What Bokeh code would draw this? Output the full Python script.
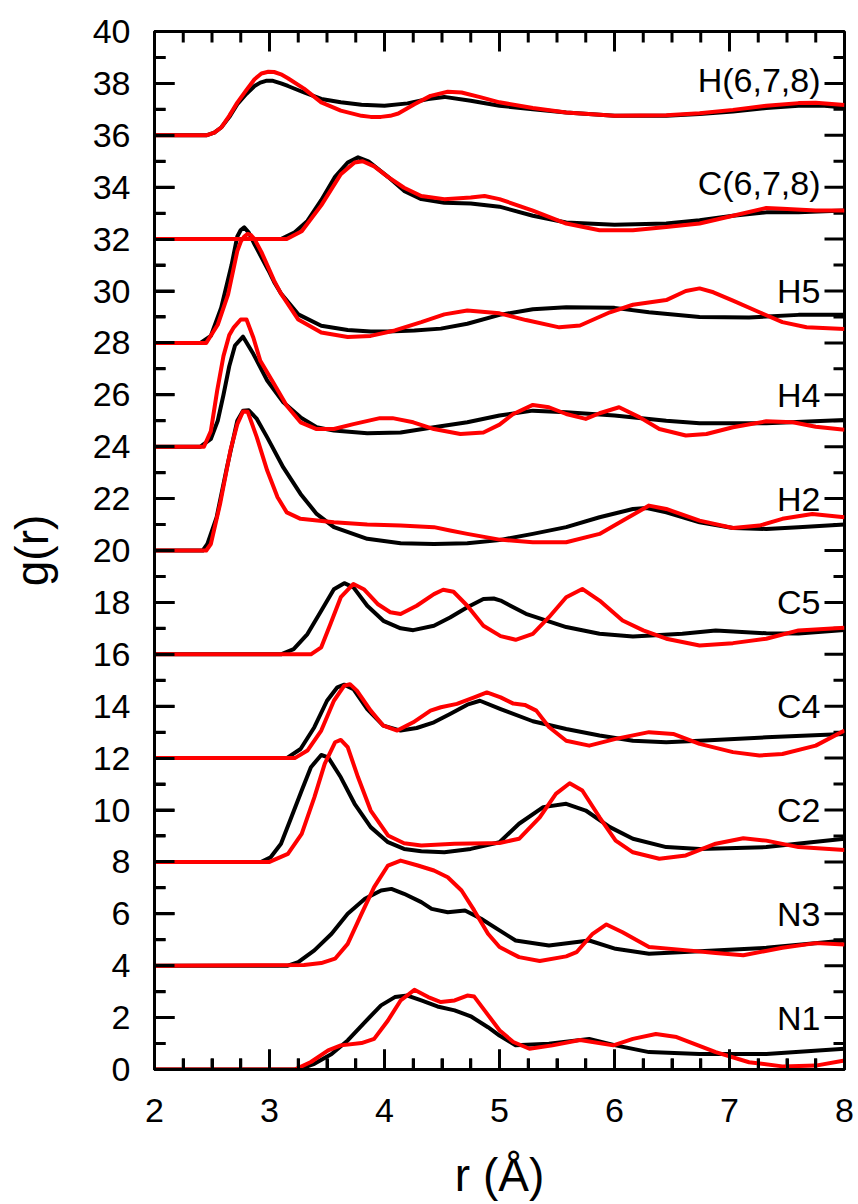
from bokeh.plotting import figure
from bokeh.models import Range1d, SingleIntervalTicker, ColumnDataSource
from bokeh.core.properties import value
from bokeh.embed import file_html
from bokeh.resources import INLINE

# ---------------- data ----------------
site_names = ["N1", "N3", "C2", "C4", "C5", "H2", "H4", "H5", "C(6,7,8)", "H(6,7,8)"]
site_offsets = [0, 4, 8, 12, 16, 20, 24, 28, 32, 36]

# N1 (offset 0)
n1_black_r = [2.0, 3.25, 3.39, 3.54, 3.68, 3.83, 3.97, 4.09, 4.2, 4.32, 4.46, 4.61, 4.75, 4.9, 5.0, 5.14, 5.43, 5.78, 6.01, 6.3, 6.74, 7.32, 8.0]
n1_black_g = [0.0, 0.0, 0.22, 0.6, 1.12, 1.83, 2.47, 2.79, 2.85, 2.66, 2.43, 2.28, 2.05, 1.63, 1.31, 0.93, 0.99, 1.18, 0.93, 0.67, 0.6, 0.6, 0.8]
n1_red_r = [2.0, 3.22, 3.36, 3.51, 3.62, 3.8, 3.91, 4.03, 4.14, 4.26, 4.38, 4.49, 4.61, 4.72, 4.78, 4.87, 5.0, 5.12, 5.26, 5.46, 5.7, 5.99, 6.16, 6.36, 6.54, 6.88, 7.17, 7.46, 7.75, 8.0]
n1_red_g = [0.0, 0.0, 0.29, 0.74, 0.93, 1.02, 1.18, 1.89, 2.66, 3.07, 2.79, 2.6, 2.66, 2.85, 2.81, 2.28, 1.51, 1.06, 0.8, 0.93, 1.14, 0.93, 1.18, 1.37, 1.25, 0.67, 0.28, 0.12, 0.15, 0.35]

# N3 (offset 4)
n3_black_r = [2.0, 3.16, 3.25, 3.39, 3.54, 3.68, 3.83, 3.97, 4.06, 4.17, 4.32, 4.41, 4.55, 4.7, 4.84, 5.0, 5.14, 5.43, 5.78, 6.01, 6.3, 6.74, 7.32, 8.0]
n3_black_g = [4.0, 4.0, 4.14, 4.59, 5.23, 6.0, 6.58, 6.9, 6.96, 6.77, 6.45, 6.19, 6.06, 6.13, 5.81, 5.36, 4.97, 4.78, 4.97, 4.65, 4.46, 4.56, 4.69, 4.97]
n3_red_r = [2.0, 3.3, 3.45, 3.57, 3.68, 3.8, 3.91, 4.03, 4.14, 4.29, 4.43, 4.55, 4.67, 4.78, 4.9, 5.0, 5.17, 5.35, 5.58, 5.67, 5.81, 5.93, 6.07, 6.3, 6.59, 6.88, 7.12, 7.46, 7.75, 8.0]
n3_red_g = [4.0, 4.03, 4.1, 4.27, 4.84, 6.0, 7.03, 7.86, 8.05, 7.86, 7.67, 7.41, 6.9, 6.13, 5.23, 4.72, 4.33, 4.18, 4.36, 4.52, 5.23, 5.59, 5.29, 4.72, 4.61, 4.49, 4.4, 4.69, 4.87, 4.82]

# C2 (offset 8)
c2_black_r = [2.0, 2.93, 3.01, 3.1, 3.19, 3.28, 3.36, 3.45, 3.51, 3.62, 3.74, 3.88, 4.03, 4.17, 4.32, 4.52, 4.75, 5.0, 5.17, 5.38, 5.58, 5.75, 5.96, 6.16, 6.45, 6.74, 7.32, 8.0]
c2_black_g = [8.0, 8.0, 8.18, 8.7, 9.72, 10.75, 11.65, 12.12, 12.03, 11.26, 10.24, 9.34, 8.76, 8.5, 8.41, 8.37, 8.5, 8.76, 9.47, 10.11, 10.24, 9.98, 9.34, 8.89, 8.57, 8.5, 8.57, 8.89]
c2_red_r = [2.0, 3.0, 3.16, 3.28, 3.39, 3.48, 3.57, 3.62, 3.68, 3.77, 3.88, 4.03, 4.17, 4.32, 4.61, 4.9, 5.0, 5.17, 5.35, 5.49, 5.61, 5.72, 5.87, 6.01, 6.16, 6.39, 6.62, 6.88, 7.12, 7.32, 7.6, 8.0]
c2_red_g = [8.0, 8.0, 8.31, 9.08, 10.49, 11.78, 12.61, 12.7, 12.42, 11.26, 9.98, 9.02, 8.72, 8.63, 8.7, 8.72, 8.73, 8.89, 9.72, 10.62, 11.03, 10.75, 9.72, 8.82, 8.37, 8.12, 8.25, 8.7, 8.91, 8.82, 8.57, 8.46]

# C4 (offset 12)
c4_black_r = [2.0, 3.15, 3.27, 3.39, 3.5, 3.59, 3.65, 3.73, 3.85, 3.99, 4.14, 4.28, 4.43, 4.57, 4.72, 4.83, 5.01, 5.29, 5.58, 5.87, 6.16, 6.45, 6.74, 7.32, 8.0]
c4_black_g = [12.0, 12.0, 12.35, 13.19, 14.21, 14.73, 14.83, 14.66, 13.89, 13.25, 13.06, 13.16, 13.38, 13.7, 14.06, 14.21, 13.89, 13.42, 13.12, 12.87, 12.67, 12.61, 12.67, 12.8, 12.93]
c4_red_r = [2.0, 3.22, 3.33, 3.45, 3.56, 3.65, 3.7, 3.76, 3.88, 3.99, 4.11, 4.25, 4.4, 4.49, 4.63, 4.78, 4.89, 5.01, 5.12, 5.22, 5.32, 5.43, 5.58, 5.78, 6.01, 6.3, 6.51, 6.74, 7.03, 7.26, 7.46, 7.75, 8.0]
c4_red_g = [12.0, 12.0, 12.29, 13.06, 14.21, 14.79, 14.85, 14.6, 13.83, 13.25, 13.06, 13.38, 13.83, 13.96, 14.09, 14.34, 14.53, 14.34, 14.1, 14.05, 13.83, 13.2, 12.67, 12.48, 12.74, 13.0, 12.93, 12.55, 12.23, 12.1, 12.16, 12.48, 13.06]

# C5 (offset 16)
c5_black_r = [2.0, 3.1, 3.21, 3.33, 3.45, 3.56, 3.65, 3.73, 3.85, 3.99, 4.14, 4.25, 4.43, 4.57, 4.72, 4.86, 4.95, 5.01, 5.23, 5.58, 5.87, 6.16, 6.59, 6.88, 7.32, 7.6, 8.0]
c5_black_g = [16.0, 16.0, 16.2, 16.78, 17.68, 18.51, 18.74, 18.58, 17.87, 17.29, 17.0, 16.93, 17.1, 17.42, 17.81, 18.13, 18.15, 18.07, 17.56, 17.05, 16.79, 16.69, 16.79, 16.92, 16.81, 16.8, 16.94]
c5_red_r = [2.0, 3.36, 3.45, 3.53, 3.62, 3.73, 3.82, 3.94, 4.05, 4.14, 4.28, 4.43, 4.51, 4.6, 4.72, 4.86, 5.01, 5.14, 5.29, 5.43, 5.58, 5.72, 5.87, 6.07, 6.25, 6.45, 6.74, 7.03, 7.32, 7.6, 8.0]
c5_red_g = [16.0, 16.0, 16.27, 17.17, 18.2, 18.71, 18.51, 17.94, 17.62, 17.55, 17.87, 18.32, 18.49, 18.41, 17.87, 17.1, 16.7, 16.56, 16.79, 17.43, 18.2, 18.52, 18.07, 17.3, 16.92, 16.6, 16.34, 16.43, 16.6, 16.92, 17.02]

# H2 (offset 20)
h2_black_r = [2.0, 2.42, 2.46, 2.54, 2.63, 2.72, 2.77, 2.82, 2.89, 2.98, 3.12, 3.27, 3.41, 3.56, 3.85, 4.14, 4.43, 4.72, 5.0, 5.29, 5.58, 5.87, 6.16, 6.28, 6.45, 6.74, 7.03, 7.32, 7.6, 8.0]
h2_black_g = [20.0, 20.0, 20.25, 21.28, 23.2, 25.0, 25.39, 25.4, 25.07, 24.36, 23.2, 22.18, 21.41, 20.9, 20.45, 20.28, 20.25, 20.28, 20.4, 20.64, 20.9, 21.28, 21.6, 21.64, 21.47, 21.09, 20.87, 20.83, 20.9, 21.0]
h2_red_r = [2.0, 2.45, 2.49, 2.57, 2.66, 2.72, 2.77, 2.81, 2.89, 2.98, 3.07, 3.15, 3.27, 3.56, 3.85, 4.14, 4.43, 4.57, 4.72, 5.0, 5.29, 5.58, 5.87, 6.1, 6.3, 6.45, 6.74, 7.03, 7.26, 7.46, 7.72, 8.0]
h2_red_g = [20.0, 20.0, 20.25, 21.79, 23.85, 24.87, 25.36, 25.35, 24.36, 23.08, 22.05, 21.47, 21.22, 21.09, 21.0, 20.96, 20.9, 20.77, 20.64, 20.42, 20.32, 20.32, 20.64, 21.22, 21.73, 21.6, 21.15, 20.87, 20.96, 21.22, 21.41, 21.28]

# H4 (offset 24)
h4_black_r = [2.0, 2.4, 2.49, 2.55, 2.6, 2.65, 2.7, 2.77, 2.86, 2.98, 3.12, 3.27, 3.41, 3.56, 3.85, 4.14, 4.43, 4.72, 5.0, 5.29, 5.58, 6.0, 6.45, 6.74, 7.32, 8.0]
h4_black_g = [24.0, 24.0, 24.3, 25.0, 26.0, 27.1, 27.9, 28.24, 27.57, 26.55, 25.71, 25.13, 24.75, 24.62, 24.52, 24.55, 24.75, 24.94, 25.2, 25.39, 25.33, 25.2, 25.0, 24.9, 24.9, 25.03]
h4_red_r = [2.0, 2.43, 2.49, 2.545, 2.6, 2.65, 2.69, 2.75, 2.8, 2.86, 2.92, 3.04, 3.15, 3.27, 3.41, 3.56, 3.73, 3.96, 4.07, 4.25, 4.43, 4.66, 4.86, 5.0, 5.12, 5.29, 5.43, 5.58, 5.75, 5.87, 6.04, 6.22, 6.39, 6.62, 6.8, 7.03, 7.32, 7.55, 7.75, 8.0]
h4_red_g = [24.0, 24.0, 24.6, 26.16, 27.5, 28.3, 28.6, 28.9, 28.9, 28.2, 27.31, 26.42, 25.58, 24.94, 24.68, 24.68, 24.87, 25.1, 25.1, 24.94, 24.68, 24.49, 24.55, 24.85, 25.26, 25.61, 25.52, 25.26, 25.07, 25.29, 25.52, 25.13, 24.68, 24.43, 24.49, 24.75, 24.98, 24.94, 24.77, 24.65]

# H5 (offset 28)
h5_black_r = [2.0, 2.4, 2.49, 2.58, 2.67, 2.72, 2.75, 2.78, 2.82, 2.87, 2.93, 2.99, 3.04, 3.1, 3.25, 3.45, 3.68, 3.88, 4.03, 4.26, 4.49, 4.72, 5.0, 5.29, 5.58, 6.0, 6.3, 6.74, 7.17, 7.6, 8.0]
h5_black_g = [28.0, 28.0, 28.27, 29.36, 31.0, 32.1, 32.35, 32.45, 32.25, 31.8, 31.3, 30.8, 30.35, 29.9, 29.1, 28.66, 28.5, 28.44, 28.44, 28.48, 28.55, 28.74, 29.08, 29.3, 29.37, 29.35, 29.18, 29.0, 28.98, 29.08, 29.08]
h5_red_r = [2.0, 2.45, 2.55, 2.64, 2.72, 2.75, 2.78, 2.81, 2.84, 2.87, 2.93, 2.99, 3.04, 3.1, 3.25, 3.45, 3.68, 3.88, 4.09, 4.32, 4.52, 4.72, 5.0, 5.23, 5.52, 5.7, 5.96, 6.16, 6.45, 6.62, 6.74, 6.86, 7.03, 7.26, 7.46, 7.67, 8.0]
h5_red_g = [28.0, 28.0, 28.7, 29.87, 31.54, 31.9, 32.1, 32.2, 32.15, 32.0, 31.5, 30.9, 30.4, 29.9, 28.9, 28.4, 28.23, 28.27, 28.48, 28.8, 29.1, 29.25, 29.14, 28.88, 28.6, 28.67, 29.18, 29.47, 29.65, 30.0, 30.1, 29.95, 29.63, 29.18, 28.8, 28.6, 28.54]

# C(6,7,8) (offset 32)
c678_black_r = [2.0, 3.1, 3.22, 3.33, 3.45, 3.57, 3.68, 3.77, 3.86, 4.03, 4.17, 4.32, 4.52, 4.75, 5.0, 5.29, 5.58, 6.0, 6.45, 6.74, 7.03, 7.32, 7.6, 8.0]
c678_black_g = [32.0, 32.0, 32.26, 32.7, 33.5, 34.4, 34.95, 35.15, 35.0, 34.4, 33.86, 33.54, 33.4, 33.37, 33.25, 32.9, 32.64, 32.55, 32.6, 32.73, 32.9, 33.03, 33.03, 33.1]
c678_red_r = [2.0, 3.15, 3.28, 3.45, 3.62, 3.74, 3.81, 3.91, 4.03, 4.17, 4.32, 4.52, 4.75, 4.87, 5.0, 5.29, 5.58, 5.87, 6.16, 6.45, 6.74, 7.03, 7.32, 7.46, 7.75, 8.0]
c678_red_g = [32.0, 32.0, 32.3, 33.3, 34.5, 34.95, 35.0, 34.8, 34.4, 33.98, 33.66, 33.54, 33.6, 33.66, 33.54, 33.1, 32.6, 32.34, 32.34, 32.47, 32.6, 32.9, 33.2, 33.17, 33.1, 33.1]

# H(6,7,8) (offset 36)
h678_black_r = [2.0, 2.45, 2.52, 2.58, 2.65, 2.72, 2.8, 2.87, 2.92, 2.97, 3.03, 3.1, 3.16, 3.3, 3.45, 3.62, 3.8, 4.0, 4.2, 4.38, 4.52, 4.75, 5.0, 5.29, 5.58, 6.0, 6.45, 6.74, 7.03, 7.32, 7.6, 7.8, 8.0]
h678_black_g = [36.0, 36.0, 36.1, 36.3, 36.7, 37.2, 37.6, 37.9, 38.03, 38.1, 38.1, 38.0, 37.9, 37.65, 37.4, 37.27, 37.18, 37.14, 37.23, 37.4, 37.48, 37.33, 37.14, 37.0, 36.88, 36.75, 36.75, 36.82, 36.92, 37.05, 37.14, 37.15, 37.07]
h678_red_r = [2.0, 2.45, 2.52, 2.58, 2.65, 2.72, 2.8, 2.87, 2.93, 2.99, 3.04, 3.1, 3.16, 3.3, 3.45, 3.62, 3.8, 3.88, 3.97, 4.05, 4.12, 4.26, 4.4, 4.55, 4.67, 4.84, 5.0, 5.29, 5.58, 6.0, 6.45, 6.74, 7.03, 7.32, 7.6, 7.75, 8.0]
h678_red_g = [36.0, 36.0, 36.1, 36.3, 36.75, 37.26, 37.75, 38.16, 38.38, 38.45, 38.44, 38.35, 38.2, 37.8, 37.27, 36.95, 36.75, 36.71, 36.71, 36.75, 36.84, 37.2, 37.52, 37.68, 37.65, 37.46, 37.27, 37.05, 36.88, 36.75, 36.77, 36.85, 36.98, 37.14, 37.24, 37.25, 37.17]

black_curves = [
    (n1_black_r, n1_black_g), (n3_black_r, n3_black_g), (c2_black_r, c2_black_g),
    (c4_black_r, c4_black_g), (c5_black_r, c5_black_g), (h2_black_r, h2_black_g),
    (h4_black_r, h4_black_g), (h5_black_r, h5_black_g), (c678_black_r, c678_black_g),
    (h678_black_r, h678_black_g),
]
red_curves = [
    (n1_red_r, n1_red_g), (n3_red_r, n3_red_g), (c2_red_r, c2_red_g),
    (c4_red_r, c4_red_g), (c5_red_r, c5_red_g), (h2_red_r, h2_red_g),
    (h4_red_r, h4_red_g), (h5_red_r, h5_red_g), (c678_red_r, c678_red_g),
    (h678_red_r, h678_red_g),
]

# axis ranges and tick spacing
X_MIN, X_MAX, X_MAJOR, X_MINOR = 2, 8, 1.0, 0.25
Y_MIN, Y_MAX, Y_MAJOR, Y_MINOR = 0, 40, 2.0, 1.0

# ---------------- figure ----------------
FONT = "Liberation Sans"
FRAME_W, FRAME_H = 690, 1038
MAJOR_LEN, MINOR_LEN = 20, 11  # inward tick lengths, px

p = figure(
    output_backend="svg", toolbar_location=None,
    x_range=Range1d(X_MIN, X_MAX), y_range=Range1d(Y_MIN, Y_MAX),
    frame_width=FRAME_W, frame_height=FRAME_H,
    min_border_left=154, min_border_right=14, min_border_top=31, min_border_bottom=135,
    x_axis_label="r (Å)", y_axis_label="g(r)",
)
p.background_fill_color = "white"
p.border_fill_color = "white"
p.xgrid.visible = False
p.ygrid.visible = False
p.outline_line_color = "black"
p.outline_line_width = 3

p.xaxis.ticker = SingleIntervalTicker(interval=X_MAJOR, num_minor_ticks=4)
p.yaxis.ticker = SingleIntervalTicker(interval=Y_MAJOR, num_minor_ticks=2)
for ax in (p.xaxis[0], p.yaxis[0]):
    ax.axis_line_width = 3
    ax.axis_line_color = "black"
    ax.major_tick_in = MAJOR_LEN
    ax.major_tick_out = 0
    ax.minor_tick_in = MINOR_LEN
    ax.minor_tick_out = 0
    ax.major_tick_line_color = "black"
    ax.minor_tick_line_color = "black"
    ax.major_tick_line_width = 3
    ax.minor_tick_line_width = 3
    ax.major_label_text_font = FONT
    ax.major_label_text_font_size = "34px"
    ax.major_label_text_color = "black"
    ax.axis_label_text_font = FONT
    ax.axis_label_text_font_size = "46px"
    ax.axis_label_text_font_style = "normal"
    ax.axis_label_text_color = "black"
p.xaxis[0].major_label_standoff = 29
p.yaxis[0].major_label_standoff = 24
p.xaxis[0].axis_label_standoff = 24
p.yaxis[0].axis_label_standoff = 32

# inward ticks on all four sides, drawn as segments from the frame edges
def tick_values(lo, hi, step):
    n = int(round((hi - lo) / step))
    return [lo + i * step for i in range(n + 1)]

x_major = tick_values(X_MIN, X_MAX, X_MAJOR)
x_minor = [v for v in tick_values(X_MIN, X_MAX, X_MINOR) if v not in x_major]
y_major = tick_values(Y_MIN, Y_MAX, Y_MAJOR)
y_minor = [v for v in tick_values(Y_MIN, Y_MAX, Y_MINOR) if v not in y_major]

x_per_px = (X_MAX - X_MIN) / FRAME_W
y_per_px = (Y_MAX - Y_MIN) / FRAME_H

tk = dict(x0=[], y0=[], x1=[], y1=[])
for vals, L in ((x_major, MAJOR_LEN), (x_minor, MINOR_LEN)):
    d = L * y_per_px
    for v in vals:
        tk["x0"] += [v, v]
        tk["x1"] += [v, v]
        tk["y0"] += [Y_MIN, Y_MAX]
        tk["y1"] += [Y_MIN + d, Y_MAX - d]
for vals, L in ((y_major, MAJOR_LEN), (y_minor, MINOR_LEN)):
    d = L * x_per_px
    for v in vals:
        tk["y0"] += [v, v]
        tk["y1"] += [v, v]
        tk["x0"] += [X_MIN, X_MAX]
        tk["x1"] += [X_MIN + d, X_MAX - d]
p.segment(x0="x0", y0="y0", x1="x1", y1="y1", source=ColumnDataSource(tk),
          line_color="black", line_width=3)

for r, g in black_curves:
    p.line(r, g, line_color="black", line_width=4, line_join="round")
for r, g in red_curves:
    p.line(r, g, line_color="#ff0000", line_width=4, line_join="round")

label_lift = [0.15 if "(" in n else 0.0 for n in site_names]
label_src = ColumnDataSource(dict(
    x=[X_MAX] * len(site_names),
    y=[o + 2 + l for o, l in zip(site_offsets, label_lift)],
    text=site_names,
))
p.text(x="x", y="y", text="text", source=label_src,
       text_font=value(FONT), text_font_size="34px", text_color="black",
       text_align="right", text_baseline="middle", x_offset=-24)

open("out.html", "w").write(file_html(p, INLINE))
